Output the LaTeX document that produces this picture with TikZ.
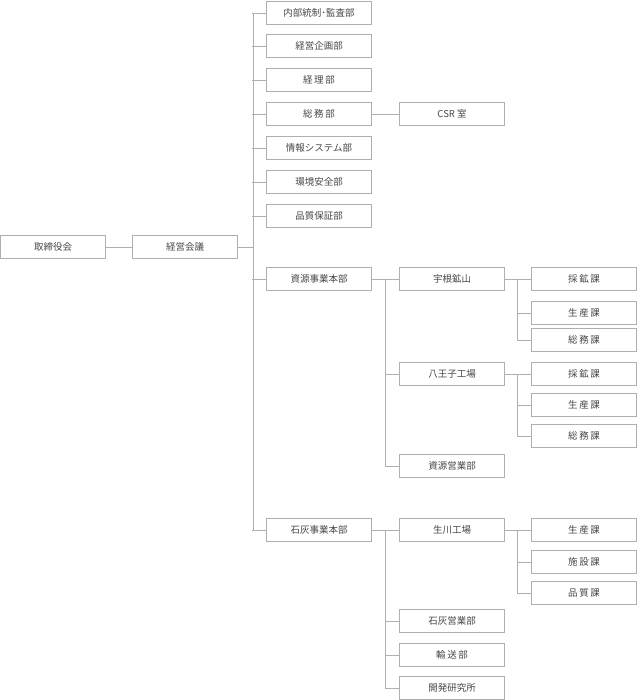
\documentclass[tikz,border=0pt]{standalone}
\usepackage{fontspec}
\setmainfont{Noto Sans CJK JP}
\usetikzlibrary{positioning}
\definecolor{boxgray}{RGB}{175,175,175}
\definecolor{txtgray}{RGB}{70,70,70}

\begin{document}
\begin{tikzpicture}[x=1pt,y=-1pt,
    unit/.style={draw=boxgray,line width=0.8pt,minimum width=105pt,minimum height=23pt,
      inner sep=0pt,font=\fontsize{9.5}{11}\selectfont,text=txtgray},
    link/.style={boxgray,line width=0.8pt}]
  \useasboundingbox (0,0) rectangle (638,700);
  % top level
  \node[unit] (board) at (53,247) {取締役会};
  \node[unit] (mgmt) at (185,247) {経営会議};
  % departments
  \node[unit] (audit) at (319,13) {内部統制･監査部};
  \node[unit] (plan) at (319,46) {経営企画部};
  \node[unit] (acct) at (319,80) {経\,理\,部};
  \node[unit] (gen) at (319,114) {総\,務\,部};
  \node[unit] (info) at (319,148) {情報システム部};
  \node[unit] (env) at (319,182) {環境安全部};
  \node[unit] (qa) at (319,216) {品質保証部};
  \node[unit] (res) at (319,279) {資源事業本部};
  \node[unit] (lime) at (319,530) {石灰事業本部};
  \node[unit] (csr) at (452,114) {CSR 室};
  % resources division
  \node[unit] (une) at (452,279) {宇根鉱山};
  \node[unit] (hach) at (452,374) {八王子工場};
  \node[unit] (ressales) at (452,466) {資源営業部};
  \node[unit] (une1) at (584,279) {採\,鉱\,課};
  \node[unit] (une2) at (584,313) {生\,産\,課};
  \node[unit] (une3) at (584,340) {総\,務\,課};
  \node[unit] (hach1) at (584,374) {採\,鉱\,課};
  \node[unit] (hach2) at (584,405) {生\,産\,課};
  \node[unit] (hach3) at (584,436) {総\,務\,課};
  % lime division
  \node[unit] (ikug) at (452,530) {生川工場};
  \node[unit] (limesales) at (452,621) {石灰営業部};
  \node[unit] (trans) at (452,655) {輸\,送\,部};
  \node[unit] (lab) at (452,688) {開発研究所};
  \node[unit] (ikug1) at (584,530) {生\,産\,課};
  \node[unit] (ikug2) at (584,562) {施\,設\,課};
  \node[unit] (ikug3) at (584,593) {品\,質\,課};
  % connectors
  \draw[link] (board) -- (mgmt);
  \coordinate (trunk) at (253,247);
  \draw[link] (mgmt) -- (trunk);
  \draw[link] (253,13) -- (253,530);
  \foreach \d in {audit,plan,acct,gen,info,env,qa,res,lime}
    \draw[link] (\d.west) -- ++(-14,0);
  \draw[link] (gen) -- (csr);
  \draw[link] (res) -- (une);
  \draw[link] (385,279) |- (ressales);
  \draw[link] (385,374) -- (hach);
  \draw[link] (lime) -- (ikug);
  \draw[link] (385,530) |- (lab);
  \foreach \d in {limesales,trans}
    \draw[link] (\d.west) -- ++(-14,0);
  \draw[link] (une) -- (une1);
  \draw[link] (517,279) |- (une3);
  \draw[link] (517,313) -- (une2);
  \draw[link] (hach) -- (hach1);
  \draw[link] (517,374) |- (hach3);
  \draw[link] (517,405) -- (hach2);
  \draw[link] (ikug) -- (ikug1);
  \draw[link] (517,530) |- (ikug3);
  \draw[link] (517,562) -- (ikug2);
\end{tikzpicture}
\end{document}
